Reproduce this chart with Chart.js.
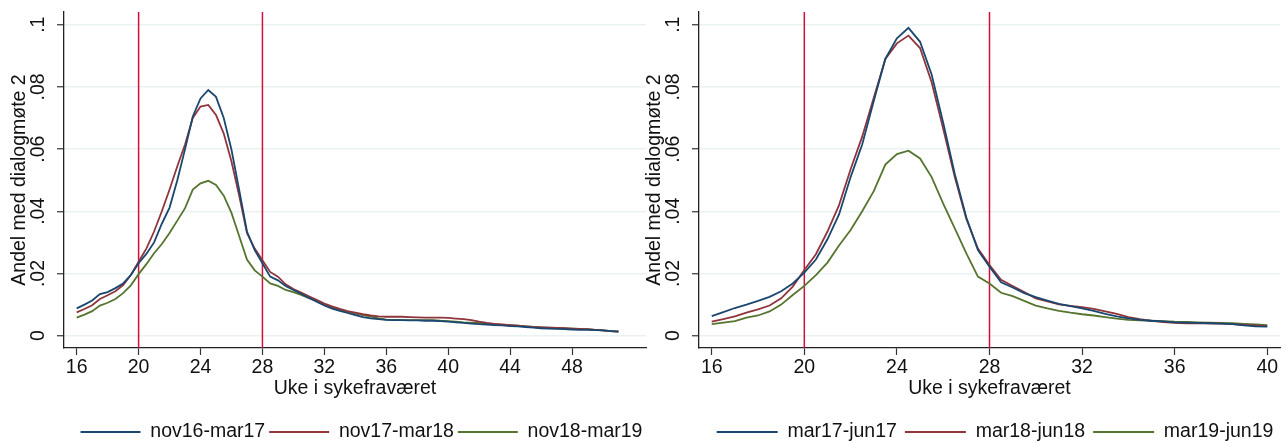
<!DOCTYPE html>
<html><head><meta charset="utf-8">
<script src="https://cdn.jsdelivr.net/npm/chart.js@4/dist/chart.umd.min.js"></script>
<style>
html,body{margin:0;padding:0;background:#fff;overflow:hidden;width:1287px;height:441px;}
canvas{position:absolute;top:0;}
#c1{left:0;}
#c2{left:635px;}
</style></head><body>
<canvas id="c1" width="650" height="441" style="width:650px;height:441px"></canvas>
<canvas id="c2" width="652" height="441" style="width:652px;height:441px"></canvas>
<script>
// ---------- DATA ----------
const weeksLeft = [16,16.5,17,17.5,18,18.5,19,19.5,20,20.5,21,21.5,22,22.5,23,23.5,24,24.5,25,25.5,26,26.5,27,27.5,28,28.5,29,29.5,30,30.5,31,31.5,32,32.5,33,33.5,34,34.5,35,35.5,36,36.5,37,37.5,38,38.5,39,39.5,40,40.5,41,41.5,42,42.5,43,43.5,44,44.5,45,45.5,46,46.5,47,47.5,48,48.5,49,49.5,50,50.5,51];
const nov16mar17 = [0.0088,0.0100,0.0113,0.0134,0.0140,0.0153,0.0168,0.0195,0.0233,0.0263,
  0.0300,0.0360,0.0412,0.0500,0.0600,0.0705,0.0763,0.0790,0.0768,0.0700,
  0.0598,0.0468,0.0335,0.0275,0.0233,0.0190,0.0178,0.0160,0.0147,0.0135,
  0.0122,0.0109,0.0097,0.0087,0.0080,0.0073,0.0066,0.0060,0.0056,0.0053,
  0.0051,0.0050,0.0050,0.0049,0.0049,0.0048,0.0048,0.0047,0.0045,0.0043,
  0.0041,0.0039,0.0037,0.0036,0.0034,0.0033,0.0031,0.0030,0.0028,0.0026,
  0.0024,0.0023,0.0022,0.0021,0.0020,0.0019,0.0019,0.0018,0.0017,0.0015,
  0.0013];
const nov17mar18 = [0.0075,0.0086,0.0098,0.0118,0.0130,0.0143,0.0163,0.0195,0.0238,0.0280,
  0.0335,0.0400,0.0470,0.0545,0.0615,0.0700,0.0737,0.0742,0.0710,0.0650,
  0.0560,0.0450,0.0330,0.0280,0.0243,0.0205,0.0190,0.0165,0.0150,0.0139,
  0.0127,0.0115,0.0103,0.0094,0.0086,0.0079,0.0074,0.0069,0.0065,0.0062,
  0.0061,0.0061,0.0061,0.0060,0.0059,0.0058,0.0058,0.0058,0.0057,0.0055,
  0.0053,0.0050,0.0045,0.0041,0.0038,0.0036,0.0034,0.0032,0.0030,0.0028,
  0.0027,0.0026,0.0025,0.0024,0.0023,0.0022,0.0021,0.0019,0.0017,0.0015,
  0.0013];
const nov18mar19 = [0.0058,0.0068,0.0079,0.0097,0.0106,0.0118,0.0137,0.0162,0.0198,0.0230,
  0.0265,0.0295,0.0330,0.0370,0.0410,0.0470,0.0490,0.0498,0.0485,0.0450,
  0.0395,0.0320,0.0245,0.0210,0.0190,0.0168,0.0160,0.0147,0.0140,0.0131,
  0.0121,0.0112,0.0100,0.0091,0.0083,0.0077,0.0071,0.0066,0.0061,0.0056,
  0.0052,0.0051,0.0050,0.0050,0.0050,0.0050,0.0050,0.0048,0.0047,0.0045,
  0.0043,0.0042,0.0041,0.0039,0.0037,0.0035,0.0034,0.0032,0.0030,0.0028,
  0.0027,0.0026,0.0025,0.0024,0.0023,0.0022,0.0021,0.0019,0.0017,0.0015,
  0.0014];

const weeksRight = [16,16.5,17,17.5,18,18.5,19,19.5,20,20.5,21,21.5,22,22.5,23,23.5,24,24.5,25,25.5,26,26.5,27,27.5,28,28.5,29,29.5,30,30.5,31,31.5,32,32.5,33,33.5,34,34.5,35,35.5,36,36.5,37,37.5,38,38.5,39,39.5,40];
const mar17jun17 = [0.0063,0.0076,0.0089,0.0100,0.0112,0.0125,0.0143,0.0168,0.0203,0.0245,
  0.0310,0.0390,0.0510,0.0615,0.0755,0.0890,0.0956,0.0990,0.0945,0.0840,
  0.0685,0.0520,0.0380,0.0275,0.0222,0.0172,0.0155,0.0137,0.0124,0.0113,
  0.0102,0.0095,0.0088,0.0080,0.0070,0.0062,0.0056,0.0051,0.0048,0.0046,
  0.0043,0.0042,0.0041,0.0040,0.0039,0.0037,0.0033,0.0030,0.0029];
const mar18jun18 = [0.0045,0.0053,0.0062,0.0074,0.0085,0.0097,0.0120,0.0158,0.0211,0.0262,
  0.0335,0.0420,0.0535,0.0640,0.0765,0.0890,0.0940,0.0965,0.0925,0.0815,
  0.0665,0.0510,0.0375,0.0280,0.0227,0.0180,0.0160,0.0140,0.0120,0.0110,
  0.0101,0.0096,0.0092,0.0086,0.0078,0.0070,0.0060,0.0053,0.0048,0.0044,
  0.0041,0.0040,0.0040,0.0040,0.0039,0.0037,0.0035,0.0033,0.0031];
const mar19jun19 = [0.0037,0.0042,0.0047,0.0058,0.0065,0.0078,0.0100,0.0131,0.0160,0.0195,
  0.0235,0.0290,0.0340,0.0400,0.0465,0.0550,0.0584,0.0595,0.0570,0.0510,
  0.0425,0.0345,0.0265,0.0190,0.0168,0.0138,0.0127,0.0112,0.0097,0.0088,
  0.0080,0.0074,0.0069,0.0065,0.0060,0.0055,0.0051,0.0049,0.0048,0.0047,
  0.0045,0.0044,0.0043,0.0042,0.0041,0.0040,0.0038,0.0036,0.0034];

const labelsLeft = ['nov16-mar17','nov17-mar18','nov18-mar19'];
const labelsRight = ['mar17-jun17','mar18-jun18','mar19-jun19'];
const yTickValues = [0, 0.02, 0.04, 0.06, 0.08, 0.1];
const yTickLabels = ['0', '.02', '.04', '.06', '.08', '.1'];
const xTicksLeft = [16,20,24,28,32,36,40,44,48];
const xTicksRight = [16,20,24,28,32,36,40];
const refLines = [20, 28];
const xTitle = 'Uke i sykefraværet';
const yTitle = 'Andel med dialogmøte 2';

// ---------- STYLE ----------
const seriesColors = ['#1a476f','#90353b','#55752f'];
const FS = 19.5;
Chart.defaults.font.family = '"Liberation Sans", Arial, Helvetica, sans-serif';
Chart.defaults.font.size = FS;
Chart.defaults.color = '#111';

const refLinePlugin = {
  id: 'refLines',
  beforeDatasetsDraw(chart) {
    const {ctx, chartArea, scales} = chart;
    ctx.save();
    ctx.strokeStyle = '#d0103a';
    ctx.lineWidth = 1.5;
    refLines.forEach(v => {
      const px = scales.x.getPixelForValue(v);
      ctx.beginPath();
      ctx.moveTo(px, chartArea.top);
      ctx.lineTo(px, chartArea.bottom);
      ctx.stroke();
    });
    ctx.restore();
  }
};

function legendMover(centerX, textY, pad) {
  return {
    id: 'legendMover',
    afterLayout(chart) {
      const lg = chart.legend;
      if (!lg) return;
      const w = lg.right - lg.left, h = lg.bottom - lg.top;
      lg.left = centerX - w / 2; lg.right = centerX + w / 2;
      lg.top = textY - pad - FS / 2; lg.bottom = lg.top + h;
    }
  };
}

function makeChart(id, weeks, series, labels, xTicks, xMin, xMax, legCenter, legPad, legBoxW, padRight) {
  const legendH = FS + legPad + 10;
  const padBottom = 441 - 348 - legendH - 52.7;
  return new Chart(document.getElementById(id), {
    type: 'line',
    data: {
      datasets: series.map((s, i) => ({
        label: labels[i],
        data: weeks.map((w, j) => ({x: w, y: s[j]})),
        borderColor: seriesColors[i],
        backgroundColor: seriesColors[i],
        borderWidth: 1.8,
        pointRadius: 0,
        tension: 0,
        fill: false
      }))
    },
    options: {
      responsive: false,
      animation: false,
      devicePixelRatio: 1,
      layout: {padding: {left: 0, top: 12, right: padRight, bottom: padBottom}},
      plugins: {
        legend: {
          position: 'bottom',
          labels: {usePointStyle: true, pointStyle: 'line', pointStyleWidth: legBoxW,
                   padding: legPad, color: '#111', font: {size: FS}}
        },
        tooltip: {enabled: false}
      },
      scales: {
        x: {
          type: 'linear', min: xMin, max: xMax,
          afterBuildTicks: s => { s.ticks = xTicks.map(v => ({value: v})); },
          afterFit: s => { s.height = 52.7; s.paddingLeft = 0; s.paddingRight = 0; },
          ticks: {autoSkip: false, minRotation: 0, maxRotation: 0, padding: 1.3,
                  color: '#111', font: {size: FS}, callback: (v) => String(v)},
          grid: {drawOnChartArea: false, drawTicks: true, tickLength: 7, tickColor: '#333', tickWidth: 1.2},
          border: {display: true, color: '#222', width: 1.3},
          title: {display: true, text: xTitle, color: '#111', font: {size: FS}, padding: {top: 0, bottom: 0}}
        },
        y: {
          type: 'linear', min: -0.003955, max: 0.104084,
          afterBuildTicks: s => { s.ticks = yTickValues.map(v => ({value: v})); },
          afterFit: s => { s.width = 64; s.paddingTop = 0; s.paddingBottom = 0; },
          ticks: {autoSkip: false, minRotation: 90, maxRotation: 90, crossAlign: 'center', padding: 5.25,
                  color: '#111', font: {size: FS}, callback: (v, i) => yTickLabels[i]},
          grid: {color: '#eaf1f3', lineWidth: 1.5, drawTicks: true, tickLength: 7, tickColor: '#333', tickWidth: 1.2},
          border: {display: true, color: '#222', width: 1.3},
          title: {display: true, text: yTitle, color: '#111', font: {size: FS}, padding: {top: 7.5, bottom: 0}}
        }
      }
    },
    plugins: [refLinePlugin, legendMover(legCenter, 432, legPad)]
  });
}

makeChart('c1', weeksLeft, [nov16mar17, nov17mar18, nov18mar19], labelsLeft, xTicksLeft,
          15.18, 52.78, 361.5, 4, 60, 4);
makeChart('c2', weeksRight, [mar17jun17, mar18jun18, mar19jun19], labelsRight, xTicksRight,
          15.45, 40.55, 360, 8, 61, 7);
</script>
</body></html>
